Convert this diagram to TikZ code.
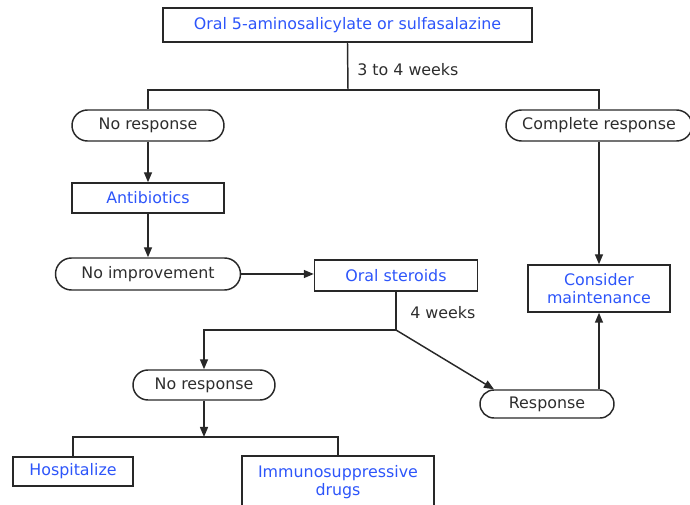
\documentclass[tikz,border=0pt]{standalone}
\usepackage{fontspec}
\setmainfont{DejaVu Sans}
\usetikzlibrary{shapes.misc,arrows.meta}
\definecolor{boxblue}{RGB}{45,85,250}
\definecolor{linegray}{RGB}{40,40,40}
\definecolor{txtgray}{RGB}{45,45,45}
\begin{document}
\begin{tikzpicture}[x=0.75pt,y=-0.75pt,
  every node/.style={font=\fontsize{11.9pt}{14pt}\selectfont},
  bx/.style={draw=linegray,line width=1.1pt,rectangle,text=boxblue,inner sep=0pt,align=center},
  ov/.style={draw=linegray,line width=1.1pt,rounded rectangle,text=txtgray,inner sep=0pt},
  ln/.style={draw=linegray,line width=1.1pt},
  ar/.style={ln,-{Triangle[length=7.5pt,width=6pt]}},
  lb/.style={text=txtgray,anchor=west,inner sep=0pt}]
\useasboundingbox (0,0) rectangle (690,505);
\begin{scope}
\clip (0,0) rectangle (690,505);
\node[bx,minimum width=369*0.75pt,minimum height=34*0.75pt] (top) at (347.5,25) {Oral 5-aminosalicylate or sulfasalazine};
\node[ov,minimum width=152*0.75pt,minimum height=31*0.75pt] (nr1) at (148,125.5) {No response};
\node[ov,minimum width=186*0.75pt,minimum height=31*0.75pt] (cr) at (599,125.5) {Complete response};
\node[bx,minimum width=152*0.75pt,minimum height=30*0.75pt] (ab) at (148,198) {Antibiotics};
\node[ov,minimum width=185*0.75pt,minimum height=32*0.75pt] (ni) at (148,274) {No improvement};
\node[bx,minimum width=163*0.75pt,minimum height=31*0.75pt] (os) at (396,275.5) {Oral steroids};
\node[bx,minimum width=142*0.75pt,minimum height=47*0.75pt] (cm) at (599,288.5) {Consider\\maintenance};
\node[ov,minimum width=142*0.75pt,minimum height=30*0.75pt] (nr2) at (204,385) {No response};
\node[ov,minimum width=134*0.75pt,minimum height=28*0.75pt] (resp) at (547,404) {Response};
\node[bx,minimum width=120*0.75pt,minimum height=29*0.75pt] (hosp) at (73,471.5) {Hospitalize};
\node[bx,minimum width=192*0.75pt,minimum height=52*0.75pt] (imm) at (338,482) {Immunosuppressive\\drugs};
\coordinate (j1) at (348,90);
\coordinate (j2) at (396,330);
\coordinate (j3) at (204,437);
\node[lb] (w1) at (357,70) {3 to 4 weeks};
\node[lb] (w2) at (410,313) {4 weeks};
\draw[ln] (top.south) -- (j1);
\draw[ln] (nr1.north) |- (j1) -| (cr.north);
\draw[ar] (nr1.south) -- (ab.north);
\draw[ar] (ab.south) -- (ni.north);
\draw[ar] (ni.east) -- (ni.east -| os.west);
\draw[ar] (cr.south) -- (cm.north);
\draw[ln] (os.south) -- (j2);
\draw[ar] (j2) -| (nr2.north);
\draw[ar] (j2) -- (resp.north west);
\draw[ar] (resp.north -| cm.south) -- (cm.south);
\draw[ar] (nr2.south) -- (j3);
\draw[ln] (hosp.north) |- (j3) -| (imm.north);
\end{scope}
\end{tikzpicture}
\end{document}
